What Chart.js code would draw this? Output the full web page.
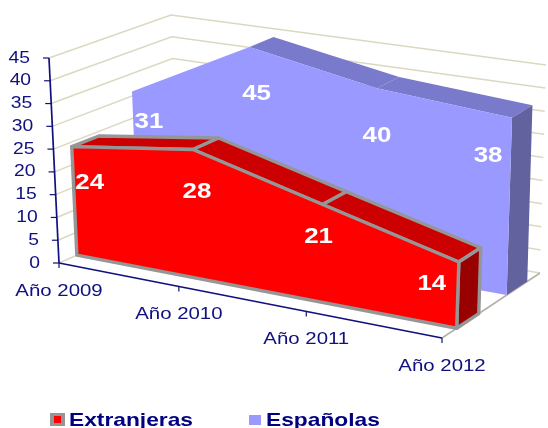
<!DOCTYPE html>
<html><head><meta charset="utf-8">
<style>html,body{margin:0;padding:0;background:#fff;overflow:hidden}canvas{display:block}</style>
<script src="https://cdn.jsdelivr.net/npm/chart.js@4/dist/chart.umd.min.js"></script>
</head><body><canvas id="c" width="548" height="428"></canvas>
<script>
const categories = ["Año 2009","Año 2010","Año 2011","Año 2012"];
const extranjeras = [24,28,21,14];
const espanolas = [31,45,40,38];

// 3D box corners in the picture: [front/back][left/right][bottom/top]
const BOX = {
  flb:[59,263], flt:[49,58], blb:[178,211], blt:[171,15],
  frb:[442,338], frt:[449,124], brb:[540,273], brt:[546,65]
};
const PERSP = 0.911, NAVY = "#10107f", GRID = "#dcd8c0";

function lerp(a,b,t){return [a[0]+(b[0]-a[0])*t,a[1]+(b[1]-a[1])*t];}
function proj(u,v,d){
  const w = PERSP*u/(1+(PERSP-1)*u), B = BOX;
  const f = lerp(lerp(B.flb,B.frb,w),lerp(B.flt,B.frt,w),v);
  const b = lerp(lerp(B.blb,B.brb,w),lerp(B.blt,B.brt,w),v);
  return lerp(f,b,d);
}
function path(ctx,pts,close){
  ctx.beginPath();
  pts.forEach((p,i)=>i?ctx.lineTo(p[0],p[1]):ctx.moveTo(p[0],p[1]));
  if(close!==false) ctx.closePath();
}
function stretchedText(ctx,s,x,y,font,color,align,stretch){
  ctx.save();
  ctx.font=font; ctx.fillStyle=color; ctx.textBaseline="middle"; ctx.textAlign=align||"center";
  ctx.translate(x,y); ctx.scale(stretch,1); ctx.fillText(s,0,0);
  ctx.restore();
}
function normaliser(chart){
  const a=chart.chartArea;
  return (x,y)=>[(x-a.left)/(a.right-a.left),(a.bottom-y)/(a.bottom-a.top)];
}
function line(ctx,a,b,color,w){
  ctx.strokeStyle=color; ctx.lineWidth=w; ctx.beginPath();
  ctx.moveTo(a[0],a[1]); ctx.lineTo(b[0],b[1]); ctx.stroke();
}

const box3d = {
  id:"box3d",
  beforeDatasetsDraw(chart){
    const ctx=chart.ctx, ys=chart.scales.y, xs=chart.scales.x, n=normaliser(chart);
    ctx.save();
    ys.ticks.forEach(t=>{
      const v=n(0,ys.getPixelForValue(t.value))[1];
      const p=[proj(0,v,0),proj(0,v,1),proj(1,v,1)];
      ctx.strokeStyle=GRID; ctx.lineWidth=1.5; path(ctx,p,false); ctx.stroke();
    });
    line(ctx,proj(1,0,0),proj(1,0,1),"#b4b2a8",1.6);
    line(ctx,proj(0,1,0),proj(0,0,0),NAVY,1.7);
    line(ctx,proj(0,0,0),proj(1,0,0),NAVY,1.7);
    ys.ticks.forEach(t=>{
      const v=n(0,ys.getPixelForValue(t.value))[1], p=proj(0,v,0);
      line(ctx,[p[0]-6,p[1]],p,NAVY,1.2);
      stretchedText(ctx,String(t.value),p[0]-19,p[1],"16.5px 'Liberation Sans'",NAVY,"right",1.17);
    });
    categories.forEach((c,i)=>{
      const u=n(xs.getPixelForValue(i),0)[0], p=proj(u,0,0);
      line(ctx,p,[p[0],p[1]+5],NAVY,1.2);
      stretchedText(ctx,xs.getLabelForValue(i),p[0],p[1]+28,"17px 'Liberation Sans'",NAVY,"center",1.2);
    });
    ctx.restore();
  },
  beforeDatasetDraw(chart,args){
    const ctx=chart.ctx, ds=chart.data.datasets[args.index], n=normaliser(chart);
    const pts=chart.getDatasetMeta(args.index).data.map(e=>n(e.x,e.y));
    const d0=ds.depth[0], d1=ds.depth[1], last=pts.length-1;
    const F=pts.map(p=>proj(p[0],p[1],d0)), K=pts.map(p=>proj(p[0],p[1],d1));
    const b0=proj(pts[0][0],0,d0), bL=proj(pts[last][0],0,d0), bK=proj(pts[last][0],0,d1);
    ctx.save();
    ctx.lineJoin="round";
    const paint=(poly,fill)=>{
      path(ctx,poly); ctx.fillStyle=fill; ctx.fill();
      if(ds.borderWidth){ctx.strokeStyle=ds.borderColor;ctx.lineWidth=ds.borderWidth;ctx.stroke();}
    };
    for(let i=0;i<last;i++){
      const sx=F[i+1][0]-F[i][0], sy=F[i+1][1]-F[i][1], ex=K[i][0]-F[i][0], ey=K[i][1]-F[i][1];
      if(sx*ey-sy*ex<-400) paint([F[i],F[i+1],K[i+1],K[i]],ds.topColor);
    }
    paint([F[last],K[last],bK,bL],ds.sideColor);
    paint([b0,...F,bL],ds.backgroundColor);
    ctx.restore();
    return false;
  },
  afterDatasetsDraw(chart){
    const ctx=chart.ctx, n=normaliser(chart);
    chart.data.datasets.forEach((ds,k)=>{
      chart.getDatasetMeta(k).data.forEach((e,i)=>{
        const p=n(e.x,e.y), t=proj(p[0],p[1],ds.depth[0]), b=proj(p[0],0,ds.depth[0]);
        stretchedText(ctx,String(ds.data[i]),t[0]+ds.labelDx[i],t[1]+(b[1]-t[1])*ds.labelDrop+ds.labelDy[i],"bold 22.5px 'Liberation Sans'","#ffffff","center",1.15);
      });
    });
    // legend
    const font="bold 18.5px 'Liberation Sans'", Y=421;
    const d=chart.data.datasets;
    ctx.save();
    ctx.fillStyle=d[0].borderColor; ctx.fillRect(50,413,15,13);
    ctx.fillStyle=d[0].backgroundColor; ctx.fillRect(54,416,7,7);
    ctx.fillStyle=d[1].backgroundColor; ctx.fillRect(249,415,12,10);
    ctx.restore();
    stretchedText(ctx,d[0].label,69,Y,font,"#000080","left",1.23);
    stretchedText(ctx,d[1].label,266,Y,font,"#000080","left",1.23);
  }
};

new Chart(document.getElementById("c"),{
  type:"line",
  data:{labels:categories,datasets:[
    {label:"Extranjeras",data:extranjeras,backgroundColor:"#ff0000",topColor:"#cc0000",sideColor:"#990000",borderColor:"#969696",borderWidth:3.4,depth:[0.15,0.375],labelDrop:0.33,labelDx:[18,4,-4,-27],labelDy:[0,0,0,0],fill:false,pointRadius:0},
    {label:"Españolas",data:espanolas,backgroundColor:"#9999ff",topColor:"#7a7acc",sideColor:"#62629f",borderColor:"#9999ff",borderWidth:0,depth:[0.66,0.87],labelDrop:0.22,labelDx:[17,7,0,-24],labelDy:[0,2,7,-1],fill:false,pointRadius:0}
  ]},
  options:{
    responsive:false,animation:false,devicePixelRatio:1,
    plugins:{legend:{display:false},tooltip:{enabled:false}},
    scales:{
      x:{display:false,offset:false},
      y:{display:false,min:0,max:45,ticks:{stepSize:5}}
    }
  },
  plugins:[box3d]
});
</script></body></html>
